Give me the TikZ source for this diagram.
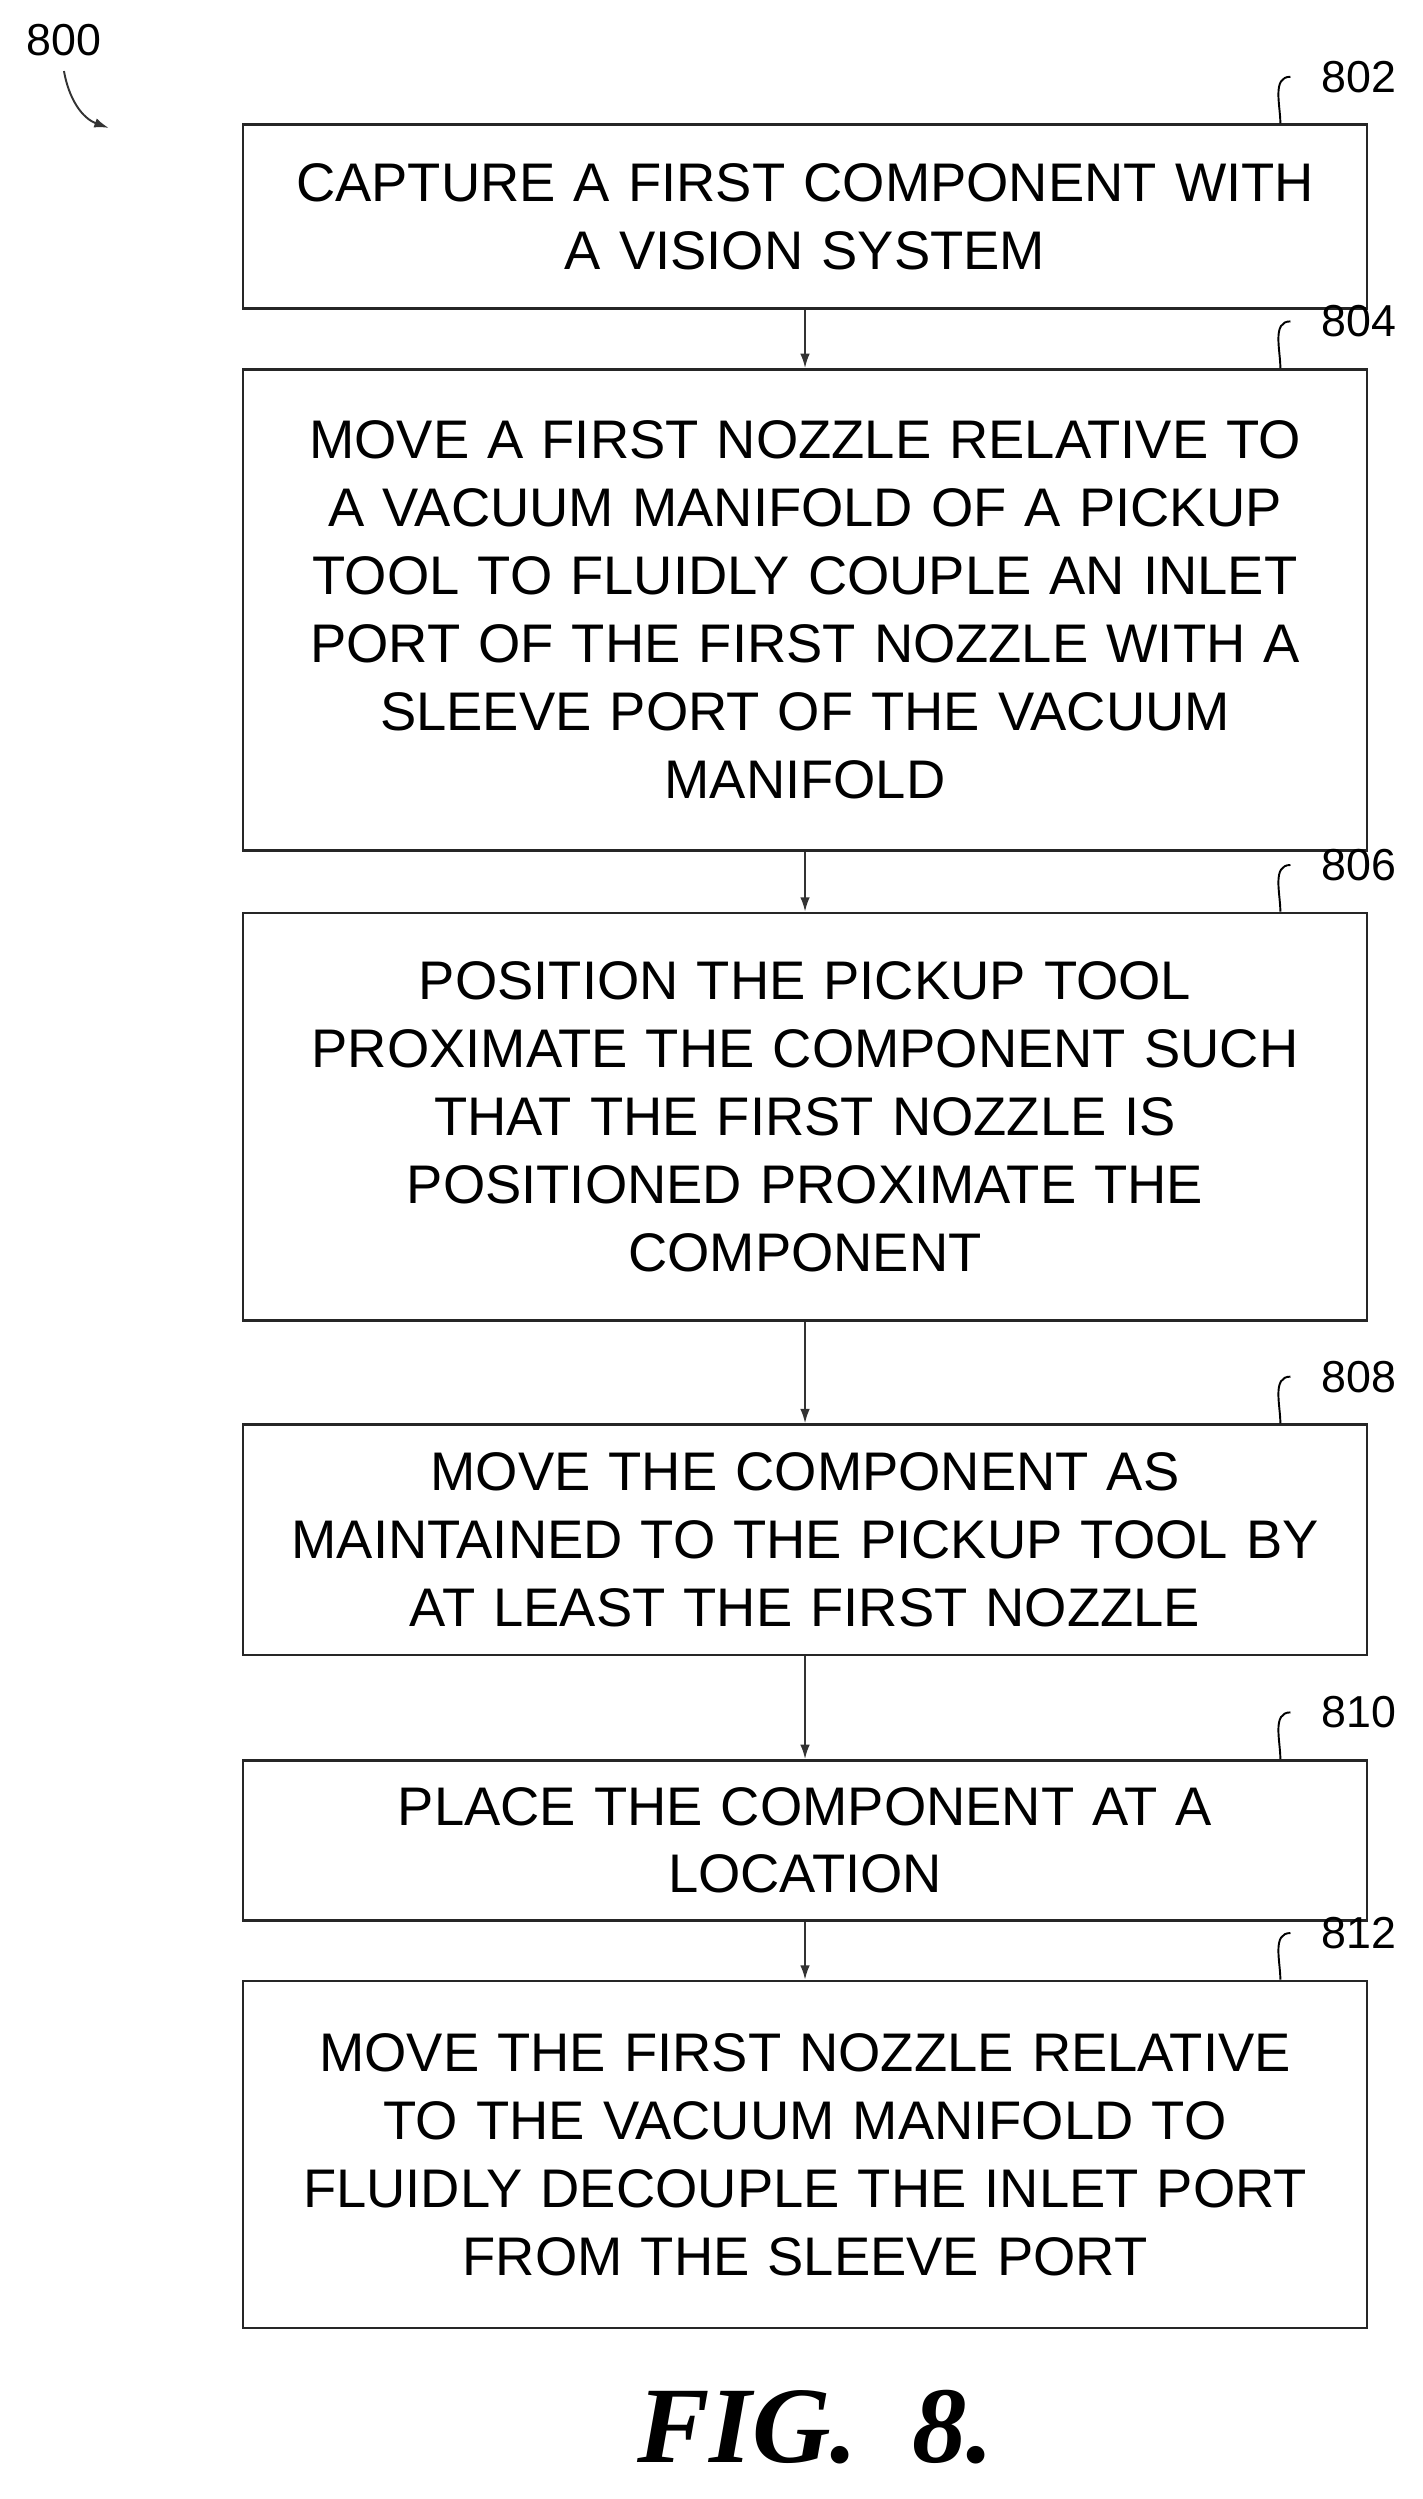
\documentclass[tikz,border=0pt]{standalone}
\usepackage{fontspec}
\setmainfont{Liberation Sans}
\newfontfamily\figfont{Liberation Serif}
\begin{document}
\begin{tikzpicture}[x=1pt,y=-1pt,
  box/.style={draw=black!85,line width=1.6pt,minimum width=703pt,text width=690pt,align=center,
    font=\fontsize{34}{42.5}\selectfont,inner sep=0pt},
  lbl/.style={font=\fontsize{28}{30}\selectfont},
  arr/.style={-{Latex[length=9pt,width=6pt]},line width=1.2pt,black!80}]
\usetikzlibrary{arrows.meta}
\useasboundingbox (0,0) rectangle (890,1563);
\fill[white] (0,0) rectangle (890,1563);
\newcommand\bx[5]{\node[box,minimum height=#3-#2 pt] (#1) at (503.5,{(#2+#3)/2}) {#4};
  \node[lbl] (l#1) at (850,{#2-30}) {#5};
  \draw[line width=1.2pt] ([xshift=-55pt]#1.north east) to[out=90,in=180] ([xshift=-16pt]l#1.west);}
\bx{a}{78}{193}{CAPTURE A FIRST COMPONENT WITH\\A VISION SYSTEM}{802}
\bx{b}{231}{532}{MOVE A FIRST NOZZLE RELATIVE TO\\A VACUUM MANIFOLD OF A PICKUP\\TOOL TO FLUIDLY COUPLE AN INLET\\PORT OF THE FIRST NOZZLE WITH A\\SLEEVE PORT OF THE VACUUM\\MANIFOLD}{804}
\bx{c}{571}{826}{POSITION THE PICKUP TOOL\\PROXIMATE THE COMPONENT SUCH\\THAT THE FIRST NOZZLE IS\\POSITIONED PROXIMATE THE\\COMPONENT}{806}
\bx{d}{891}{1035}{MOVE THE COMPONENT AS\\MAINTAINED TO THE PICKUP TOOL BY\\AT LEAST THE FIRST NOZZLE}{808}
\bx{e}{1101}{1201}{PLACE THE COMPONENT AT A\\LOCATION}{810}
\bx{f}{1239}{1456}{MOVE THE FIRST NOZZLE RELATIVE\\TO THE VACUUM MANIFOLD TO\\FLUIDLY DECOUPLE THE INLET PORT\\FROM THE SLEEVE PORT}{812}
\foreach \p/\q in {a/b,b/c,c/d,d/e,e/f} \draw[arr] (\p) -- (\q);
\node[lbl] (n800) at (40,25) {800};
\coordinate (t800) at (68,80);
\draw[arr] (n800.south) ++(0,6) to[out=-80,in=160] (t800);
\node[font=\figfont\itshape\bfseries\fontsize{68}{68}\selectfont] (fig) at (510,1518) {FIG.~~8.};
\end{tikzpicture}
\end{document}
